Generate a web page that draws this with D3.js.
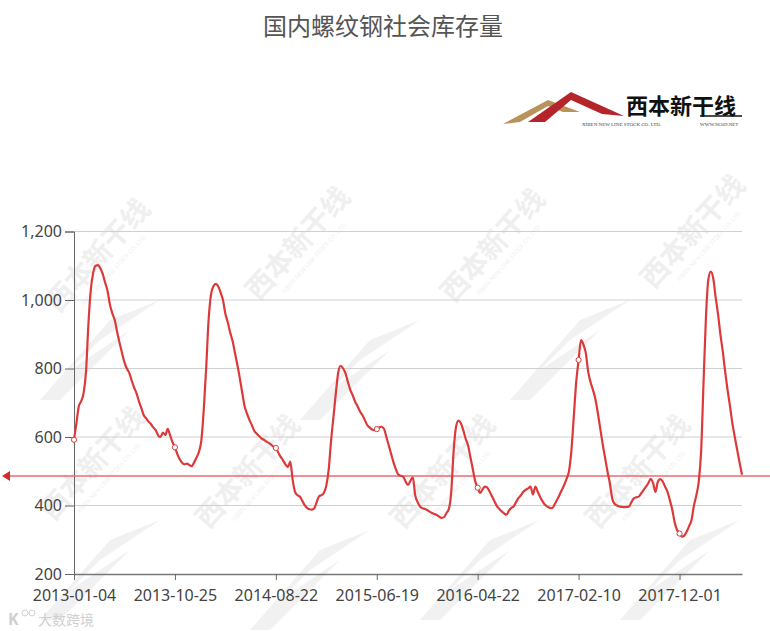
<!DOCTYPE html>
<html><head><meta charset="utf-8">
<script src="https://cdn.jsdelivr.net/npm/d3@7"></script>
<style>body{margin:0;background:#fff}svg{display:block}</style>
</head><body>
<svg id="c" width="770" height="631"></svg>
<script>
const title = "国内螺纹钢社会库存量";
const tickLabels = ["2013-01-04","2013-10-25","2014-08-22","2015-06-19","2016-04-22","2017-02-10","2017-12-01"];
const tickIndex = [0,42,84,126,168,210,252];
const yTicks = [200,400,600,800,1000,1200];
const refValue = 486;
const inventory = [
592,640,690,705,728,790,930,1030,1080,1100,
1102,1092,1075,1050,1025,985,960,940,905,874,
845,818,800,787,765,745,728,705,685,664,
655,645,638,628,620,605,600,613,606,624,
605,585,570,550,535,525,520,522,518,515,
526,540,557,590,680,800,940,1015,1040,1047,
1040,1022,1000,960,935,905,880,845,810,772,
730,690,668,650,635,618,610,603,596,592,
587,583,578,572,568,555,542,532,520,512,
528,475,440,430,426,414,401,393,389,388,
392,410,427,430,437,458,505,590,660,730,
790,808,800,786,760,737,722,703,690,675,
664,650,635,628,622,620,623,628,630,624,
600,575,550,525,505,490,487,484,470,460,
472,482,430,410,397,392,390,387,382,378,
375,372,367,364,366,378,390,440,560,630,
648,640,620,595,575,540,505,470,452,437,
447,455,452,440,426,412,398,390,383,377,
373,385,393,398,410,422,430,440,446,450,
455,432,455,440,425,412,402,397,393,392,
403,416,430,445,460,478,500,560,660,760,
825,883,870,845,790,760,737,710,670,625,
580,540,500,465,420,405,400,397,396,395,
396,397,410,421,424,426,435,445,455,465,
478,465,440,470,477,470,455,440,415,387,
350,328,318,309,312,324,340,358,400,430,
470,560,760,950,1060,1083,1065,1010,960,900,
850,790,737,690,640,600,562,525,490
];

(function(){
const svg = d3.select("#c");
const mL = 74, mR = 742, mT = 231.5, mB = 574;
const idx = d3.range(inventory.length);

const x = d3.scalePoint().domain(idx).range([mL, mR]);
const y = d3.scaleLinear().domain([200, 1200]).range([mB, mT]);

// watermarks
const wm = svg.append("g").attr("fill", "#efefef");
const wmPos = [[105,262],[305,250],[500,252],[700,238],[100,470],[255,478],[450,478],[645,478]];
wmPos.forEach(([cx, cy]) => {
  const g = wm.append("g").attr("transform", `translate(${cx},${cy}) rotate(-48)`);
  g.append("text").attr("text-anchor", "middle").attr("font-family", "Noto Sans CJK SC")
    .attr("font-size", 28).attr("font-weight", "bold").text("西本新干线");
  g.append("text").attr("text-anchor", "middle").attr("y", 14).attr("font-family", "Noto Sans")
    .attr("font-size", 6).text("XIBEN NEW LINE STOCK CO. LTD.");
});
const swoosh = [[40,360],[300,380],[510,360],[40,580],[250,590],[420,580],[620,580]];
swoosh.forEach(([sx, sy]) => {
  wm.append("path").attr("transform", `translate(${sx},${sy})`)
    .attr("d", "M0,40 L70,-40 L120,-60 L60,-20 L30,10 L90,-30 L20,40 Z").attr("fill", "#f1f1f1");
});

// grid
svg.append("g").selectAll("line").data(yTicks.filter(d => d > 200)).join("line")
  .attr("x1", mL).attr("x2", mR).attr("y1", d => y(d)).attr("y2", d => y(d))
  .attr("stroke", "#d0d0d0").attr("stroke-width", 1);

// y axis
const yAxis = svg.append("g").attr("transform", `translate(${mL},0)`)
  .call(d3.axisLeft(y).tickValues(yTicks).tickFormat(d3.format(",")).tickSize(9).tickPadding(3));
yAxis.select(".domain").attr("stroke", "#666");
yAxis.selectAll(".tick line").attr("stroke", "#666");
yAxis.selectAll("text").attr("font-family", "Noto Sans").attr("font-size", 16).attr("fill", "#444");

// x axis
const xAxis = svg.append("g").attr("transform", `translate(0,${mB})`)
  .call(d3.axisBottom(x).tickValues(tickIndex).tickFormat((d, i) => tickLabels[i])
    .tickSize(6).tickPadding(10).tickSizeOuter(0));
xAxis.select(".domain").attr("stroke", "#777").attr("stroke-width", 1.5);
xAxis.selectAll(".tick line").attr("stroke", "#666");
xAxis.selectAll("text").attr("font-family", "Noto Sans").attr("font-size", 16).attr("fill", "#444");

// reference line
svg.append("line").attr("x1", 8).attr("x2", 770).attr("y1", y(refValue)).attr("y2", y(refValue))
  .attr("stroke", "#ec6b6b").attr("stroke-width", 1.5);
svg.append("path").attr("d", `M2,${y(refValue)} L10,${y(refValue)-5} L10,${y(refValue)+5} Z`).attr("fill", "#d42a2a");

// line
const line = d3.line().x((d, i) => x(i)).y(d => y(d)).curve(d3.curveMonotoneX);
svg.append("path").datum(inventory).attr("d", line).attr("fill", "none")
  .attr("stroke", "#dc3a3a").attr("stroke-width", 2.2);

// markers
svg.append("g").selectAll("circle").data(tickIndex).join("circle")
  .attr("cx", d => x(d)).attr("cy", d => y(inventory[d]))
  .attr("r", 2.6).attr("fill", "#fff").attr("stroke", "#dc3a3a").attr("stroke-width", 1);

// title
svg.append("text").attr("x", 383).attr("y", 35).attr("text-anchor", "middle")
  .attr("font-family", "Noto Sans CJK SC").attr("font-size", 24).attr("fill", "#555").text(title);

// logo
const logo = svg.append("g");
logo.append("path").attr("d", "M503,124 L548,100 L580,112 L563,112 L548,106 L520,122 Z").attr("fill", "#b8945a");
logo.append("path").attr("d", "M528,122 L571,92 L624,116 L602,114 L571,100 L545,122 Z").attr("fill", "#b5242b");
logo.append("text").attr("x", 626).attr("y", 114).attr("font-family", "Noto Sans CJK SC")
  .attr("font-size", 22).attr("font-weight", "bold").attr("fill", "#111").text("西本新干线");
logo.append("line").attr("x1", 700).attr("x2", 742).attr("y1", 116).attr("y2", 116).attr("stroke", "#111").attr("stroke-width", 1.5);
logo.append("text").attr("x", 582).attr("y", 126).attr("font-family", "Liberation Serif")
  .attr("font-size", 5).attr("fill", "#444").text("XIBEN NEW LINE STOCK CO. LTD.");
logo.append("text").attr("x", 700).attr("y", 126).attr("font-family", "Liberation Serif")
  .attr("font-size", 5).attr("fill", "#444").text("WWW.96369.NET");

// bottom-left watermark
const bl = svg.append("g").attr("fill", "#d0d0d0");
bl.append("text").attr("x", 8).attr("y", 625).attr("font-family", "Noto Sans").attr("font-size", 16)
  .attr("font-weight", "bold").text("K");
bl.append("circle").attr("cx", 25).attr("cy", 613).attr("r", 3).attr("fill", "none").attr("stroke", "#d0d0d0");
bl.append("circle").attr("cx", 32).attr("cy", 613).attr("r", 3).attr("fill", "none").attr("stroke", "#d0d0d0");
bl.append("text").attr("x", 38).attr("y", 625).attr("font-family", "Noto Sans CJK SC").attr("font-size", 14).text("大数跨境");
})();
</script>
</body></html>
